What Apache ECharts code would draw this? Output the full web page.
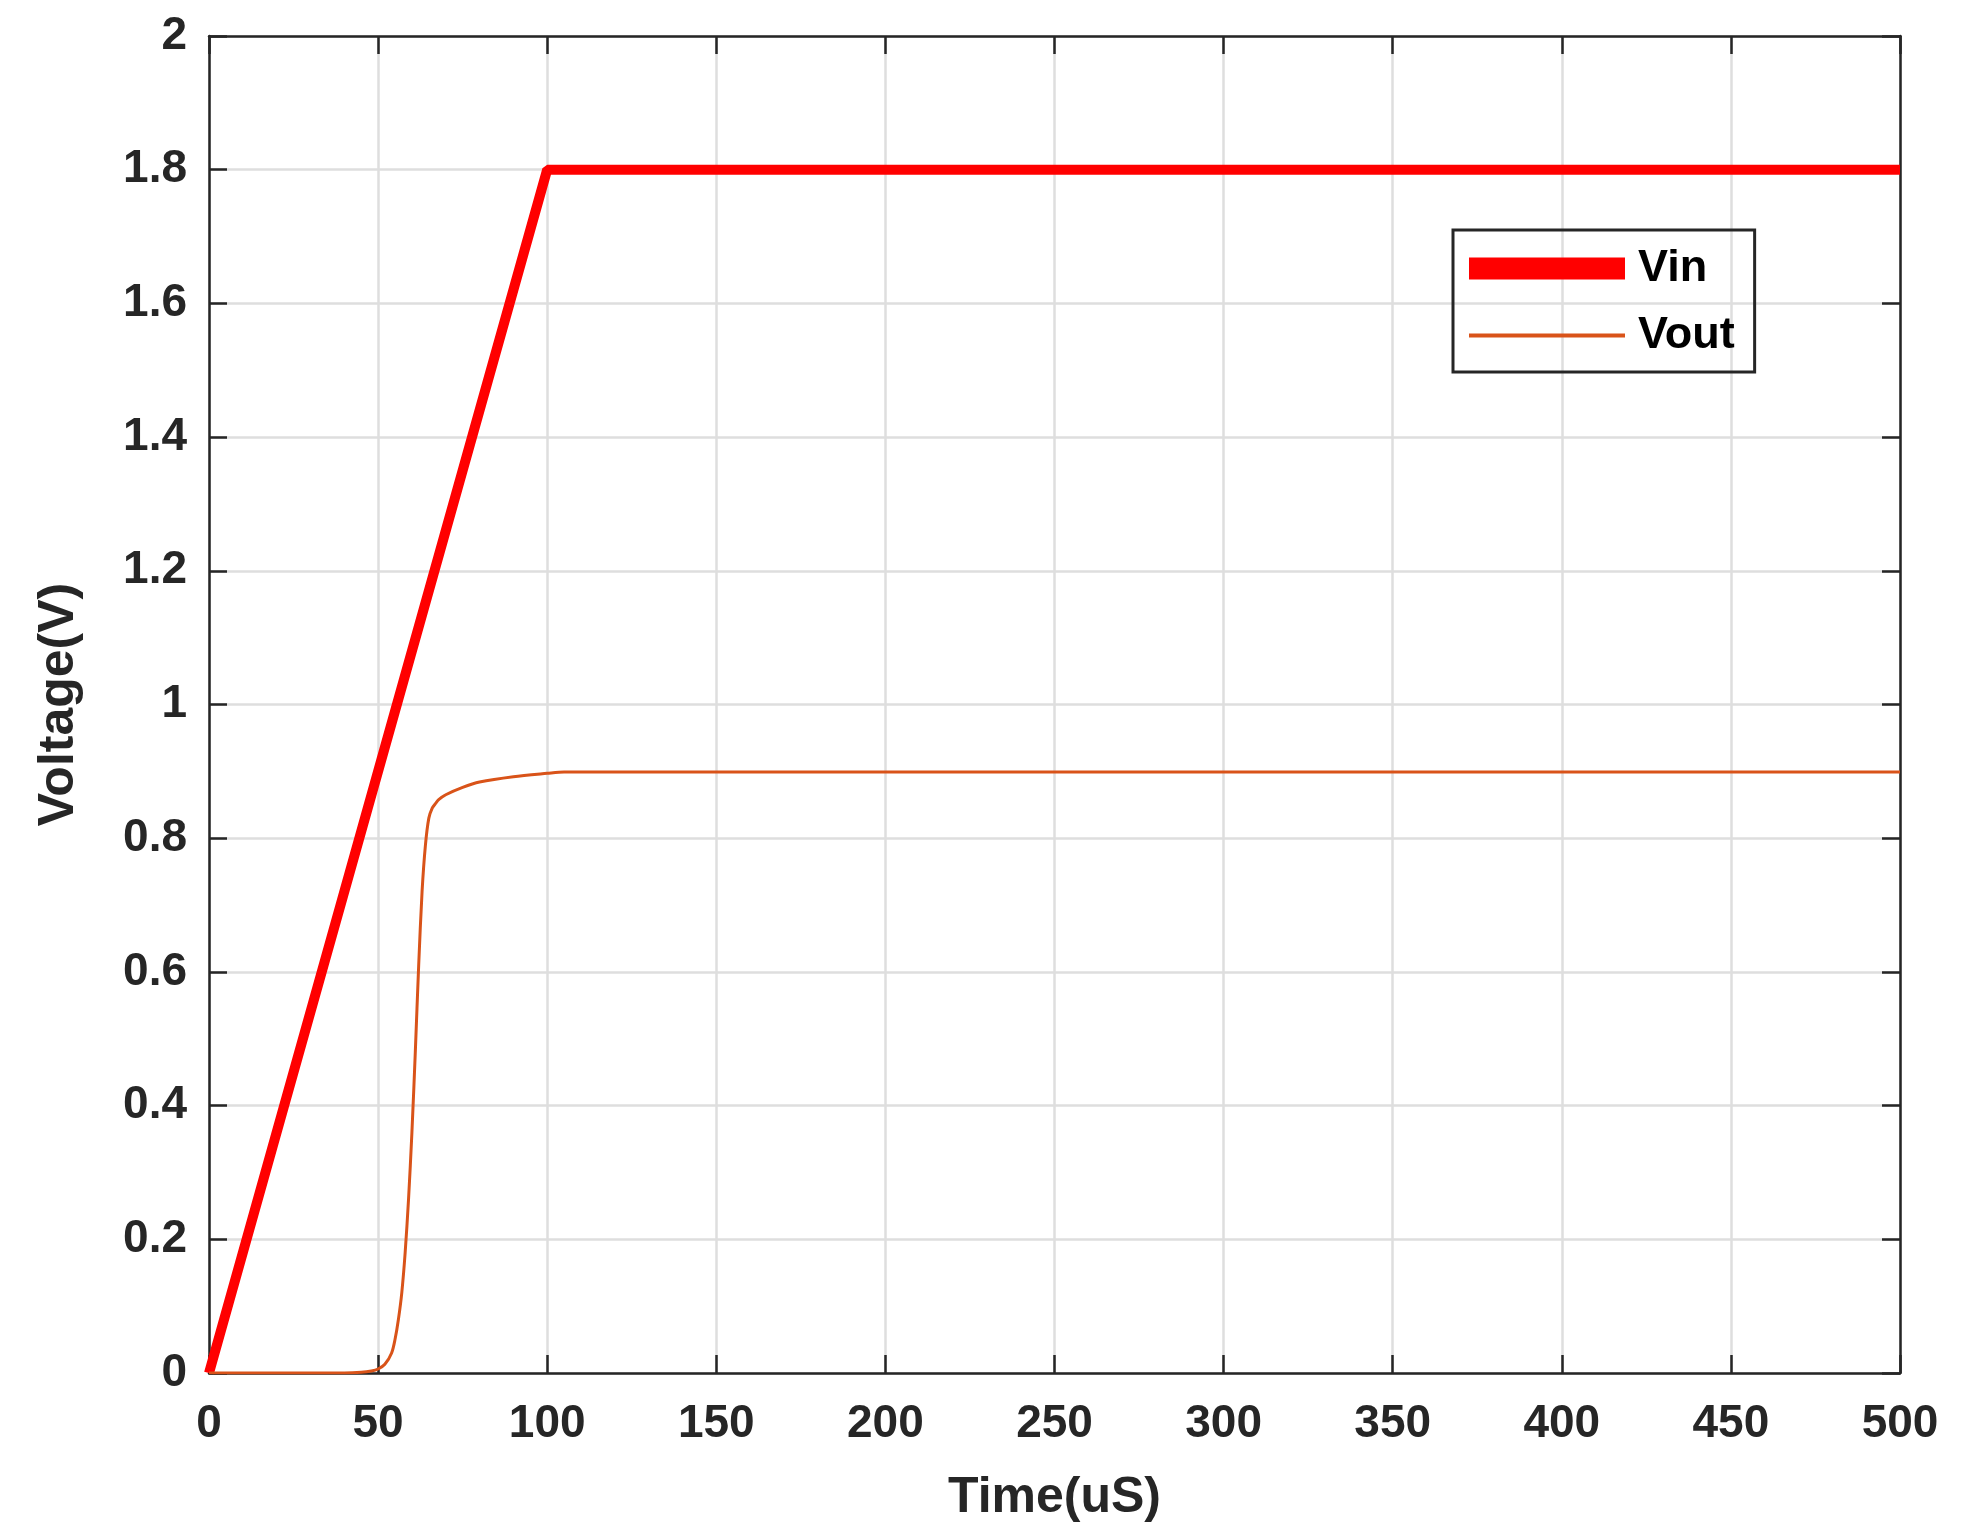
<!DOCTYPE html>
<html>
<head>
<meta charset="utf-8">
<script src="https://cdn.jsdelivr.net/npm/echarts@6/dist/echarts.min.js"></script>
<style>html,body{margin:0;padding:0;background:#fff}#chart{width:1979px;height:1539px}</style>
</head>
<body>
<div id="chart"></div>
<script>
// Vin: linear ramp to 1.8 V at 100 uS then flat
var vinTime = [0, 100, 500];
var vinValues = [0, 1.8, 1.8];
// Vout
var voutTime = [0, 40, 45, 48, 50, 52, 54, 55, 56, 57, 58, 59, 60, 61, 62, 63, 64, 65, 66, 67, 68, 70, 75, 80, 90, 100, 105, 500];
var voutValues = [0, 0, 0.001, 0.003, 0.006, 0.013, 0.03, 0.05, 0.08, 0.12, 0.18, 0.26, 0.36, 0.48, 0.61, 0.72, 0.79, 0.83, 0.845, 0.852, 0.858, 0.865, 0.876, 0.884, 0.892, 0.897, 0.899, 0.899];

var font = 'Liberation Sans';
var axisColor = '#262626';

function pairs(xs, ys) {
    return xs.map((x, i) => [x, ys[i]]);
}

var myChart = echarts.init(document.getElementById('chart'));

var xBase = {
    min: 0, max: 500, interval: 50,
    axisLine: {onZero: false, lineStyle: {color: axisColor, width: 2.5}},
    axisTick: {inside: true, length: 18, lineStyle: {color: axisColor, width: 2.5}}
};
var yBase = {
    min: 0, max: 2, interval: 0.2,
    axisLine: {onZero: false, lineStyle: {color: axisColor, width: 2.5}},
    axisTick: {inside: true, length: 18, lineStyle: {color: axisColor, width: 2.5}}
};

option = {
    backgroundColor: '#fff',
    animation: false,
    grid: {left: 209, right: 79, top: 36, bottom: 166},
    legend: {
        orient: 'vertical',
        left: 1453, top: 230,
        padding: [16, 20, 14, 16],
        itemGap: 22,
        itemWidth: 156,
        itemHeight: 22,
        borderColor: axisColor,
        borderWidth: 3,
        textStyle: {fontFamily: font, fontWeight: 'bold', fontSize: 45, color: '#000', padding: [0, 0, 0, 8]},
        data: [
            {name: 'Vin', icon: 'rect', itemStyle: {color: '#ff0000'}},
            {name: 'Vout', icon: 'path://M0,0 L10,0 L10,0.25 L0,0.25 Z', itemStyle: {color: '#d95319'}}
        ]
    },
    xAxis: [
        Object.assign({
            type: 'value', position: 'bottom',
            name: 'Time(uS)', nameLocation: 'middle', nameGap: 100,
            nameTextStyle: {fontFamily: font, fontWeight: 'bold', fontSize: 50, color: axisColor},
            axisLabel: {fontFamily: font, fontWeight: 'bold', fontSize: 46, color: axisColor, margin: 28},
            splitLine: {show: true, lineStyle: {color: '#dedede', width: 2.5}}
        }, xBase),
        Object.assign({
            type: 'value', position: 'top',
            axisLabel: {show: false}, splitLine: {show: false}
        }, xBase)
    ],
    yAxis: [
        Object.assign({
            type: 'value', position: 'left',
            name: 'Voltage(V)', nameLocation: 'middle', nameGap: 125, nameRotate: 90,
            nameTextStyle: {fontFamily: font, fontWeight: 'bold', fontSize: 50, color: axisColor},
            axisLabel: {fontFamily: font, fontWeight: 'bold', fontSize: 46, color: axisColor, margin: 22,
                formatter: (v) => String(Math.round(v * 10) / 10)},
            splitLine: {show: true, lineStyle: {color: '#dedede', width: 2.5}}
        }, yBase),
        Object.assign({
            type: 'value', position: 'right',
            axisLabel: {show: false}, splitLine: {show: false}
        }, yBase)
    ],
    series: [
        {
            name: 'Vin', type: 'line', showSymbol: false, symbol: 'none',
            data: pairs(vinTime, vinValues),
            lineStyle: {color: '#ff0000', width: 10},
            itemStyle: {color: '#ff0000'}
        },
        {
            name: 'Vout', type: 'line', showSymbol: false, symbol: 'none', smooth: 0.3,
            data: pairs(voutTime, voutValues),
            lineStyle: {color: '#d95319', width: 3},
            itemStyle: {color: '#d95319'}
        }
    ]
};
myChart.setOption(option);
</script>
</body>
</html>
